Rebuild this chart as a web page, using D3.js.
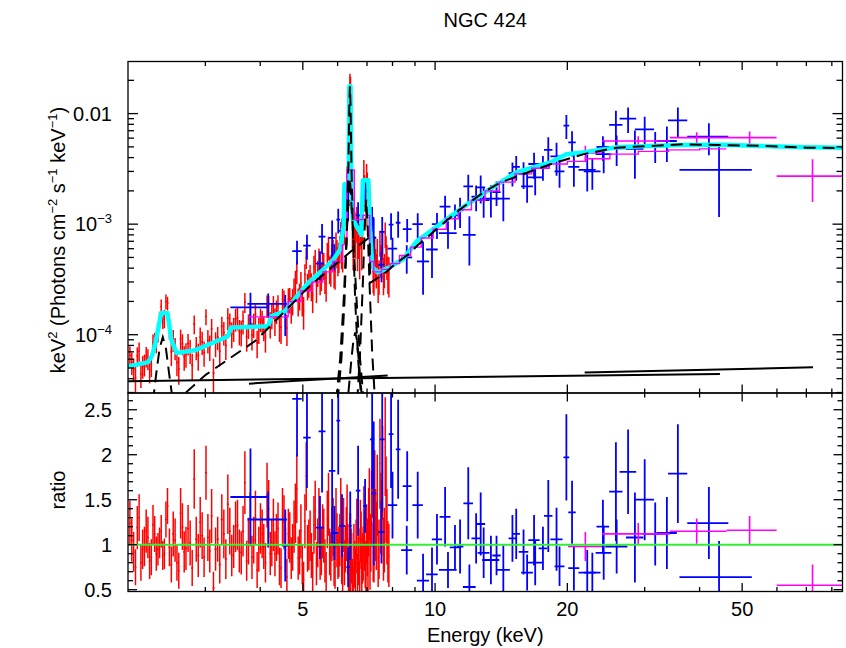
<!DOCTYPE html>
<html><head><meta charset="utf-8">
<script src="https://cdn.jsdelivr.net/npm/d3@7"></script>
<style>body{margin:0;background:#fff}svg{display:block}text{font-family:"Liberation Sans",Arial,Helvetica,sans-serif;fill:#000}</style>
</head><body><svg id="c" width="846" height="648"></svg>
<script>
// ---------------- DATA ----------------
const title = "NGC 424";
const xMajorTicks = [5, 10, 20, 50];
const xMinorTicks = [3, 4, 6, 7, 8, 9, 30, 40, 60, 70, 80];
const yTopMajor = [1e-4, 1e-3, 1e-2];
const yTopLabels = [["10","\u22124"],["10","\u22123"],["0.01",""]];
const yTopMinorMant = [2,3,4,5,6,7,8,9];
const yRatMajor = [0.5, 1, 1.5, 2, 2.5];

// red data set (2-8 keV), part 1
const redE = [2.02,2.06,2.10,2.14,2.18,2.22,2.26,2.30,2.34,2.38,
2.42,2.46,2.51,2.56,2.61,2.66,2.71,2.77,2.83,2.89,
2.95,3.01,3.07,3.13,3.20,3.27,3.34,3.41,3.48,3.55,
3.62,3.69,3.76,3.83,3.90,3.97,4.04,4.11,4.18,4.25,
4.32,4.39,4.46,4.53,4.60,4.67,4.74,4.81,4.88,4.95,
5.02,5.09,5.16,5.23,5.30,5.37,5.44,5.51,5.58,5.65,
5.72,5.79,5.86,5.92,5.98,6.04,6.10,6.16,6.22,6.28,
6.33,6.38,6.42,6.46,6.51,6.56,6.61,6.66,6.71,6.76,
6.81,6.86,6.91,6.96,7.01,7.06,7.11,7.17,7.23,7.29,
7.35,7.42,7.49,7.56,7.63,7.70,7.77,7.85];
const redFlux = [6.5e-5,4.9e-5,6.4e-5,4.4e-5,5.4e-5,6.1e-5,5.4e-5,8.8e-5,1.05e-4,1.8e-4,
1.41e-4,1.93e-4,7.0e-5,7.6e-5,4.9e-5,8.3e-5,6.7e-5,7.2e-5,1.25e-4,6.5e-5,
8.6e-5,1.46e-4,7.8e-5,4.5e-5,9.5e-5,1.19e-4,8.0e-5,1.27e-4,1.14e-4,1.42e-4,
1.06e-4,1.98e-4,1.22e-4,1.0e-4,1.53e-4,1.12e-4,1.32e-4,9.5e-5,1.82e-4,1.5e-4,
1.35e-4,1.83e-4,1.17e-4,2.03e-4,1.15e-4,2.1e-4,2.04e-4,3.04e-4,2.04e-4,2.93e-4,
1.65e-4,5.0e-4,3.0e-4,2.8e-4,4.1e-4,2.77e-4,4.8e-4,3.5e-4,4.3e-4,2.9e-4,
6.2e-4,3.9e-4,5.7e-4,3.75e-4,5.6e-4,5.2e-4,8.3e-4,5.4e-4,9.6e-4,1.8e-3,
2.2e-3,8.6e-3,1.36e-2,1.7e-3,6.0e-4,8.2e-4,9.8e-4,5.9e-4,7.5e-4,9.4e-4,
5.9e-4,1.35e-3,2.1e-3,1.55e-3,2.2e-3,2.0e-3,7.2e-4,7.7e-4,3.7e-4,6.1e-4,
4.0e-4,3.1e-4,6.9e-4,4.7e-4,3.6e-4,8.2e-4,4.8e-4,3.6e-4];
const redRatio = [1.24,0.92,1.19,0.80,0.98,1.08,0.86,1.12,0.95,1.15,
0.90,1.43,0.78,1.05,0.71,1.20,0.96,1.02,1.73,0.88,
1.10,1.80,0.93,0.52,1.06,1.28,0.84,1.15,0.98,1.22,
0.91,1.69,1.04,0.86,1.30,0.95,1.12,0.80,1.40,1.02,
0.90,1.18,0.74,1.25,0.64,1.08,0.97,1.35,0.85,1.15,
0.61,1.76,1.00,0.88,1.22,0.79,1.30,0.93,1.10,0.70,
1.45,0.86,1.20,0.75,1.05,0.92,1.38,0.68,0.80,1.12,
0.95,0.72,0.85,0.85,0.55,0.78,0.98,0.66,0.88,1.15,
0.74,0.90,1.05,0.62,0.97,1.25,0.80,1.40,0.92,1.60,
1.10,0.85,1.90,1.30,0.95,2.09,1.20,0.88];
const redRatioErr = [0.25,0.22,0.24,0.20,0.22,0.23,0.20,0.20,0.18,0.18,
0.17,0.20,0.20,0.24,0.20,0.26,0.24,0.25,0.33,0.24,
0.26,0.30,0.24,0.18,0.25,0.28,0.22,0.26,0.24,0.28,
0.24,0.35,0.26,0.24,0.30,0.25,0.27,0.22,0.32,0.26,
0.25,0.29,0.22,0.30,0.20,0.28,0.26,0.33,0.24,0.30,
0.20,0.38,0.28,0.25,0.32,0.24,0.33,0.27,0.30,0.22,
0.35,0.26,0.32,0.24,0.30,0.28,0.36,0.22,0.25,0.30,
0.28,0.35,0.50,0.28,0.20,0.26,0.30,0.24,0.30,0.35,
0.26,0.30,0.34,0.24,0.32,0.38,0.30,0.42,0.33,0.45,
0.38,0.32,0.50,0.42,0.35,0.55,0.42,0.35];

// red data set, part 2 (bins lying between those of part 1)
const redE2 = [2.04,2.08,2.12,2.16,2.20,2.24,2.28,2.32,2.36,2.40,
2.44,2.485,2.535,2.585,2.635,2.685,2.74,2.80,2.86,2.92,
2.98,3.04,3.10,3.165,3.235,3.305,3.375,3.445,3.515,3.585,
3.655,3.725,3.795,3.865,3.935,4.005,4.075,4.145,4.215,4.285,
4.355,4.425,4.495,4.565,4.635,4.705,4.775,4.845,4.915,4.985,
5.055,5.125,5.195,5.265,5.335,5.405,5.475,5.545,5.615,5.685,
5.755,5.825,5.89,5.95,6.01,6.07,6.13,6.19,6.25,6.305,
6.355,6.40,6.44,6.485,6.535,6.585,6.635,6.685,6.735,6.785,
6.835,6.885,6.935,6.985,7.035,7.085,7.14,7.20,7.26,7.32,
7.385,7.455,7.525,7.595,7.665,7.735,7.81];
const redFlux2 = [5.6e-5,4.05e-5,7.1e-5,5.2e-5,6.4e-5,4.8e-5,8.5e-5,8.6e-5,1.38e-4,1.38e-4,
2.0e-4,1.16e-4,9.0e-5,5.6e-5,9.2e-5,6.3e-5,8.3e-5,5.3e-5,7.7e-5,9.5e-5,
6.9e-5,8.9e-5,1.13e-4,8.4e-5,7.1e-5,1.05e-4,1.41e-4,1.02e-4,1.39e-4,1.08e-4,
1.33e-4,9.6e-5,1.5e-4,1.24e-4,8.5e-5,1.39e-4,1.17e-4,1.84e-4,1.26e-4,1.81e-4,
1.64e-4,1.19e-4,2.11e-4,1.6e-4,2.1e-4,1.72e-4,2.6e-4,3.76e-4,2.27e-4,2.04e-4,
3.5e-4,2.8e-4,3.4e-4,2.29e-4,4.7e-4,3.67e-4,3.2e-4,4.4e-4,3.3e-4,5.4e-4,
4.0e-4,5.2e-4,3.8e-4,6.7e-4,4.8e-4,6.1e-4,5.6e-4,1.1e-3,1.33e-3,2.7e-3,
3.5e-3,1.87e-2,7.0e-3,9.3e-4,1.03e-3,7.3e-4,1.12e-3,7.2e-4,5.0e-4,8.5e-4,
1.02e-3,3.0e-3,1.95e-3,2.7e-3,1.36e-3,1.89e-3,7.1e-4,7.9e-4,3.5e-4,4.5e-4,
5.7e-4,3.5e-4,4.9e-4,6.7e-4,4.0e-4,5.9e-4,3.7e-4];
const redRatio2 = [1.05,0.75,1.30,0.95,1.15,0.82,1.22,0.90,1.02,0.88,
1.28,0.97,1.12,0.80,1.35,0.92,1.18,0.74,1.06,1.25,
0.86,1.08,1.32,0.95,0.78,1.12,1.45,0.88,1.20,0.93,
1.15,0.82,1.28,1.05,0.72,1.18,0.98,1.55,0.90,1.22,
1.08,0.76,1.32,0.94,1.12,0.85,1.20,1.62,0.92,0.78,
1.26,0.96,1.10,0.70,1.38,1.02,0.86,1.15,0.82,1.28,
0.92,1.12,0.78,1.30,0.88,1.05,0.80,1.22,0.95,1.35,
0.70,1.10,0.88,0.62,0.95,0.72,1.18,0.82,0.60,1.05,
0.85,1.30,0.78,1.12,0.68,1.45,1.02,1.75,0.90,1.22,
1.55,0.95,1.35,1.80,1.05,1.50,0.92];
const redRatioErr2 = [0.24,0.20,0.26,0.22,0.24,0.20,0.22,0.19,0.17,0.16,
0.20,0.21,0.25,0.20,0.28,0.23,0.26,0.20,0.25,0.28,
0.22,0.26,0.30,0.24,0.21,0.27,0.33,0.23,0.28,0.24,
0.28,0.22,0.30,0.26,0.20,0.28,0.25,0.36,0.24,0.29,
0.26,0.21,0.31,0.25,0.28,0.23,0.29,0.38,0.25,0.22,
0.30,0.26,0.28,0.22,0.33,0.27,0.25,0.30,0.24,0.32,
0.26,0.30,0.24,0.33,0.26,0.29,0.24,0.30,0.26,0.32,
0.25,0.25,0.30,0.22,0.28,0.24,0.33,0.27,0.22,0.32,
0.28,0.35,0.26,0.33,0.25,0.40,0.32,0.45,0.32,0.40,
0.45,0.33,0.45,0.52,0.36,0.48,0.34];

// blue data set (3.5-50 keV)
const blueE = [3.80,4.17,4.56,4.85,5.11,5.47,5.53,5.83,5.90,6.02,6.14,6.34,6.41,6.68,6.93,7.19,7.25,7.55,7.58,7.94,
8.00,8.24,8.62,8.64,9.13,9.39,9.84,10.1,10.54,10.7,11.1,11.4,11.9,11.97,12.4,12.7,12.9,13.4,13.8,14.3,
15.0,15.3,15.9,16.2,16.8,16.9,17.6,18.1,18.9,19.2,19.9,20.5,20.7,22.2,22.8,24.1,24.2,25.8,25.9,27.5,
28.5,30.0,31.7,33.7,35.7,42.0,44.3];
const blueHalfW = [0.38,0.43,0.08,0.12,0.10,0.12,0.10,0.10,0.12,0.06,0.10,0.06,0.05,0.08,0.07,0.08,0.10,0.13,0.10,0.10,
0.20,0.10,0.25,0.20,0.25,0.30,0.30,0.27,0.30,0.50,0.30,0.20,0.30,0.40,0.30,0.30,0.40,0.60,0.30,0.50,
0.30,0.30,0.40,0.50,0.50,0.70,0.40,0.40,0.60,0.50,0.30,0.40,0.60,1.00,1.00,0.80,1.00,0.90,1.50,1.20,
1.30,1.50,2.00,1.80,1.80,4.50,8.30];
const blueFlux = [1.77e-4,1.90e-4,1.63e-4,5.7e-4,6.4e-4,4.4e-4,7.7e-4,7.5e-4,5.2e-4,1.10e-3,8.7e-4,1.5e-3,4.7e-3,1.2e-3,2.0e-3,1.14e-3,7.5e-4,4.3e-4,8.5e-4,9.9e-4,
6.0e-4,1.03e-3,5.0e-4,9.0e-4,1.0e-3,4.6e-4,5.9e-4,1.0e-3,1.44e-3,8.3e-4,1.2e-3,1.33e-3,2.2e-3,8.0e-4,1.77e-3,2.15e-3,1.65e-3,1.7e-3,1.95e-3,1.7e-3,
2.9e-3,3.3e-3,2.85e-3,2.2e-3,3.5e-3,2.65e-3,3.3e-3,4.7e-3,4.1e-3,3.0e-3,7.8e-3,5.5e-3,3.3e-3,3.1e-3,3.0e-3,5.0e-3,4.3e-3,7.9e-3,4.85e-3,9.0e-3,
4.8e-3,7.2e-3,5.2e-3,5.65e-3,8.7e-3,6.2e-3,3.1e-3];
const blueRatio = [1.53,1.28,0.99,2.62,2.19,1.19,2.26,1.82,1.13,2.38,1.21,0.75,1.21,1.60,1.43,2.17,1.57,1.14,2.17,2.23,
1.44,2.06,0.94,1.65,1.44,0.60,0.67,1.06,1.31,0.72,0.97,0.98,1.46,0.53,1.07,1.23,0.91,0.83,0.88,0.72,
1.07,1.12,0.92,0.69,1.05,0.80,0.96,1.32,1.06,0.76,1.97,1.36,0.74,0.69,0.69,1.20,0.91,1.59,0.98,1.81,
1.08,1.50,1.12,1.13,1.79,1.24,0.64];
const blueRatioErr = [0.54,0.31,0.40,0.64,0.56,0.35,0.68,0.80,0.30,0.60,0.35,0.22,0.38,0.50,0.30,0.55,0.80,0.35,0.80,0.60,
0.37,0.55,0.27,0.39,0.37,0.30,0.30,0.28,0.33,0.20,0.25,0.30,0.40,0.25,0.28,0.35,0.28,0.27,0.22,0.27,
0.26,0.28,0.25,0.20,0.28,0.25,0.24,0.40,0.35,0.22,0.48,0.35,0.25,0.25,0.22,0.30,0.30,0.55,0.30,0.47,
0.50,0.45,0.35,0.40,0.55,0.40,0.40];

// magenta data set (20-85 keV)
const batE = [21.98, 29.0, 39.4, 52.0, 72.3];
const batLo = [20.07, 24.0, 34.2, 46.1, 59.9];
const batHi = [23.99, 34.2, 46.1, 59.9, 85.0];
const batFlux = [4.4e-3, 5.65e-3, 6.06e-3, 6.06e-3, 2.72e-3];
const batRatio = [0.98, 1.12, 1.15, 1.16, 0.55];
const batRatioErr = [0.16, 0.12, 0.14, 0.16, 0.23];

// total model (cyan)
const cyanE = [2.00,2.22,2.27,2.30,2.34,2.38,2.46,2.51,2.58,2.84,3.38,3.43,4.17,4.24,4.55,5.14,5.57,5.87,6.08,6.19,
6.22,6.36,6.38,6.42,6.45,6.50,6.80,6.85,7.05,7.10,7.20,7.40,7.90,8.20,8.45,9.08,9.90,11.4,13.3,15.3,
18.3,19.9,21.7,25.9,30.8,36.6,45.0,55.0,70.0,85.0];
const cyanV = [5.18e-5,5.62e-5,6.5e-5,7.85e-5,1.1e-4,1.57e-4,1.57e-4,9.04e-5,6.84e-5,7.22e-5,9.68e-5,1.16e-4,1.19e-4,1.47e-4,1.63e-4,2.94e-4,3.89e-4,4.79e-4,5.9e-4,9.6e-4,
2.3e-3,2.3e-3,1.77e-2,1.77e-2,2.0e-3,1.1e-3,8.0e-4,2.5e-3,2.5e-3,1.0e-3,4.1e-4,3.65e-4,4.1e-4,4.5e-4,4.79e-4,7.0e-4,8.96e-4,1.36e-3,2.06e-3,2.94e-3,
3.62e-3,4.28e-3,4.46e-3,4.95e-3,5.09e-3,5.2e-3,5.22e-3,5.1e-3,4.95e-3,4.9e-3];

// binned model of the second data set (magenta steps): bin edges and levels
const magEdges = [3.76,4.63,4.95,5.25,5.55,5.85,6.15,6.30,6.55,6.85,7.10,7.25,7.55,7.90,8.3,8.8,9.3,9.9,10.6,11.3,12.1,13.0,14.0,15.2,16.6,18.2,20.0,22.0,25.0,29.0,34.0,40.0,46.0];
const magLevels = [1.45e-4,2.0e-4,2.5e-4,3.0e-4,3.7e-4,4.6e-4,6.5e-4,3.1e-3,1.1e-3,1.2e-3,4.6e-4,3.7e-4,3.9e-4,4.4e-4,5.2e-4,6.2e-4,7.5e-4,9.0e-4,1.12e-3,1.35e-3,1.65e-3,2.0e-3,2.4e-3,2.85e-3,3.2e-3,3.5e-3,3.7e-3,3.9e-3,4.3e-3,4.55e-3,4.7e-3,4.8e-3];

// dashed components
const contE = [2.55,2.70,3.01,3.93,5.14,6.51,7.10,7.12,7.62,8.18,8.68,9.15,9.74,10.26,11.4,12.86,14.06,16.17,18.26,21.71,25.9,36.66,43.7,56.8,70.1,85.0];
const contV = [2.2e-5,2.97e-5,4.36e-5,9.0e-5,2.67e-4,5.9e-4,7.6e-4,2.95e-4,3.5e-4,4.47e-4,5.3e-4,6.5e-4,8.0e-4,9.6e-4,1.36e-3,1.93e-3,2.37e-3,2.92e-3,3.47e-3,4.28e-3,4.92e-3,5.27e-3,5.2e-3,5.09e-3,4.92e-3,4.88e-3];
const feKaNarrowE = [6.00,6.12,6.22,6.30,6.35,6.38,6.40,6.42,6.45,6.50,6.58,6.68,6.80];
const feKaNarrowV = [2.5e-5,6e-5,2.0e-4,9e-4,3.5e-3,1.2e-2,1.77e-2,1.2e-2,3.5e-3,9e-4,2.0e-4,6e-5,2.5e-5];
const feKaBinnedE = [5.95,6.08,6.20,6.30,6.40,6.50,6.62,6.75,6.88];
const feKaBinnedV = [2.5e-5,6e-5,2.2e-4,9e-4,2.6e-3,9e-4,2.2e-4,6e-5,2.5e-5];
const feHighE = [6.65,6.75,6.85,6.92,6.97,7.02,7.09,7.19,7.30];
const feHighV = [2.5e-5,7e-5,3.0e-4,1.0e-3,1.67e-3,1.0e-3,3.0e-4,7e-5,2.5e-5];
const broadE = [6.35,6.45,6.52,6.58,6.64,6.70,6.80];
const broadV = [3e-5,6e-5,9e-5,1.05e-4,9e-5,6e-5,3e-5];
const lowLineE = [2.28,2.32,2.36,2.40,2.44,2.48,2.53];
const lowLineV = [2.5e-5,4.5e-5,7.5e-5,9.5e-5,7.5e-5,4.5e-5,2.5e-5];

// solid scattered power-law components [E1,E2],[V1,V2]
const plA = {E:[2.0,44.5], V:[3.80e-5,4.42e-5]};
const plB = {E:[3.77,7.8], V:[3.61e-5,4.27e-5]};
const plC = {E:[21.9,72.5], V:[4.56e-5,5.07e-5]};

// ---------------- LAYOUT ----------------
const L = 128, R = 842.5, T = 61.5, M = 393, B = 591.5;
const svg = d3.select("#c");
const x = d3.scaleLog().domain([2, 84.6]).range([L, R]);
const yT = d3.scaleLog().domain([2.97e-5, 0.0296]).range([M, T]);
const yR = d3.scaleLinear().domain([0.48, 2.686]).range([B, M]);

const defs = svg.append("defs");
defs.append("clipPath").attr("id","clipT").append("rect").attr("x",L).attr("y",T).attr("width",R-L).attr("height",M-T);
defs.append("clipPath").attr("id","clipR").append("rect").attr("x",L).attr("y",M).attr("width",R-L).attr("height",B-M);

const gT = svg.append("g").attr("clip-path","url(#clipT)");
const gR = svg.append("g").attr("clip-path","url(#clipR)");

// merge the two red parts into one energy-sorted set
const red = redE.map((e,i)=>({e, f:redFlux[i], r:redRatio[i], er:redRatioErr[i]}))
  .concat(redE2.map((e,i)=>({e, f:redFlux2[i], r:redRatio2[i], er:redRatioErr2[i]})))
  .sort((a,b)=>a.e-b.e);
const rE = red.map(d=>d.e), rF = red.map(d=>d.f), rR = red.map(d=>d.r), rEr = red.map(d=>d.er);

function binEdges(E){
  return E.map((e,i)=>{
    const a = i>0 ? E[i-1] : e - (E[1]-E[0]);
    const b = i<E.length-1 ? E[i+1] : e + (e-E[i-1]);
    return [ (e+a)/2, (e+b)/2 ];
  });
}
const redBins = binEdges(rE);

function buildTop(E, lohi, flux, ratio, err){
  return E.map((e,i)=>{
    const rel = err[i]/ratio[i];
    const lo = Math.max(flux[i]*(1-rel), 1e-7);
    return {e, lo:lohi[i][0], hi:lohi[i][1], y:yT(flux[i]), y1:yT(flux[i]*(1+rel)), y2:yT(lo)};
  });
}
function buildRat(E, lohi, ratio, err){
  return E.map((e,i)=>({e, lo:lohi[i][0], hi:lohi[i][1], y:yR(ratio[i]), y1:yR(ratio[i]+err[i]), y2:yR(ratio[i]-err[i])}));
}
function crosses(g, pts, color, sw){
  const gg = g.append("g").attr("stroke",color).attr("stroke-width",sw).attr("fill","none");
  gg.selectAll("line.h").data(pts).join("line").attr("class","h")
    .attr("x1",d=>x(d.lo)).attr("x2",d=>x(d.hi)).attr("y1",d=>d.y).attr("y2",d=>d.y);
  gg.selectAll("line.v").data(pts).join("line").attr("class","v")
    .attr("x1",d=>x(d.e)).attr("x2",d=>x(d.e)).attr("y1",d=>d.y1).attr("y2",d=>d.y2);
}
const blueBins = blueE.map((e,i)=>[e-blueHalfW[i], e+blueHalfW[i]]);
const batBins = batE.map((e,i)=>[batLo[i], batHi[i]]);

// top panel data
crosses(gT, buildTop(rE, redBins, rF, rR, rEr), "#ff0000", 1.5);
crosses(gT, buildTop(blueE, blueBins, blueFlux, blueRatio, blueRatioErr), "#0000ff", 1.8);
crosses(gT, buildTop(batE, batBins, batFlux, batRatio, batRatioErr), "#ff00ff", 1.6);

const lineT = d3.line().x(d=>x(d[0])).y(d=>yT(d[1]));
const zip = (a,b)=>a.map((v,i)=>[v,b[i]]);
// cyan model
gT.append("path").attr("d", lineT(zip(cyanE,cyanV))).attr("fill","none").attr("stroke","#00ffff").attr("stroke-width",4.5).attr("stroke-linejoin","round");
// magenta step model
const magPts = magLevels.map((v,i)=>[magEdges[i],v]); magPts.push([magEdges[magEdges.length-1], magLevels[magLevels.length-1]]);
gT.append("path").attr("d", d3.line().curve(d3.curveStepAfter).x(d=>x(d[0])).y(d=>yT(d[1]))(magPts))
  .attr("fill","none").attr("stroke","#ff00ff").attr("stroke-width",1.4);
// dashed components
[[contE,contV],[feKaNarrowE,feKaNarrowV],[feKaBinnedE,feKaBinnedV],[feHighE,feHighV],[broadE,broadV],[lowLineE,lowLineV]].forEach(([E,V])=>{
  gT.append("path").attr("d", lineT(zip(E,V))).attr("fill","none").attr("stroke","#000").attr("stroke-width",2).attr("stroke-dasharray","12,7");
});
[plA,plB,plC].forEach(p=>{
  gT.append("path").attr("d", lineT(zip(p.E,p.V))).attr("fill","none").attr("stroke","#000").attr("stroke-width",2);
});

// ratio panel
crosses(gR, buildRat(rE, redBins, rR, rEr), "#ff0000", 1.5);
crosses(gR, buildRat(blueE, blueBins, blueRatio, blueRatioErr), "#0000ff", 1.8);
crosses(gR, buildRat(batE, batBins, batRatio, batRatioErr), "#ff00ff", 1.6);
gR.append("line").attr("x1",L).attr("x2",R).attr("y1",yR(1)).attr("y2",yR(1)).attr("stroke","#33ee33").attr("stroke-width",2);

// ---------------- AXES ----------------
const ax = svg.append("g").attr("stroke","#000").attr("stroke-width",1.3).attr("fill","none");
ax.append("rect").attr("x",L).attr("y",T).attr("width",R-L).attr("height",M-T);
ax.append("rect").attr("x",L).attr("y",M).attr("width",R-L).attr("height",B-M);
function xTicks(yEdge, dir){
  xMajorTicks.forEach(t=>ax.append("line").attr("x1",x(t)).attr("x2",x(t)).attr("y1",yEdge).attr("y2",yEdge+dir*8.5));
  xMinorTicks.forEach(t=>ax.append("line").attr("x1",x(t)).attr("x2",x(t)).attr("y1",yEdge).attr("y2",yEdge+dir*4.5));
}
xTicks(T,1); xTicks(M,-1); xTicks(M,1); xTicks(B,-1);
function yTick(y, len){
  ax.append("line").attr("x1",L).attr("x2",L+len).attr("y1",y).attr("y2",y);
  ax.append("line").attr("x1",R).attr("x2",R-len).attr("y1",y).attr("y2",y);
}
yTopMajor.forEach(v=>yTick(yT(v),10));
[1e-5,1e-4,1e-3,1e-2].forEach(dec=>yTopMinorMant.forEach(m=>{const v=dec*m; if(v>2.97e-5 && v<0.0296) yTick(yT(v),6);}));
yRatMajor.forEach(v=>yTick(yR(v),9));
d3.range(6,27).map(k=>k/10).filter(v=>Math.abs(v*2-Math.round(v*2))>1e-6).forEach(v=>yTick(yR(v),5));

// labels
const fs = 20, fsup = 13;
yTopMajor.forEach((v,i)=>{
  const t = svg.append("text").attr("x",112).attr("y",yT(v)+7).attr("text-anchor","end").attr("font-size",fs);
  t.append("tspan").text(yTopLabels[i][0]);
  if (yTopLabels[i][1]) t.append("tspan").attr("dy",-8).attr("font-size",fsup).text(yTopLabels[i][1]);
});
yRatMajor.forEach(v=>{
  svg.append("text").attr("x",112).attr("y",yR(v)+7).attr("text-anchor","end").attr("font-size",fs).text(String(v));
});
xMajorTicks.forEach(t=>{
  svg.append("text").attr("x",x(t)).attr("y",616).attr("text-anchor","middle").attr("font-size",fs).text(String(t));
});
svg.append("text").attr("x",(L+R)/2).attr("y",642).attr("text-anchor","middle").attr("font-size",fs).text("Energy (keV)");
svg.append("text").attr("x",(L+R)/2).attr("y",27).attr("text-anchor","middle").attr("font-size",fs).text(title);
svg.append("text").attr("transform","translate(65,490) rotate(-90)").attr("text-anchor","middle").attr("font-size",fs).text("ratio");
const yl = svg.append("text").attr("transform","translate(65,240) rotate(-90)").attr("text-anchor","middle").attr("font-size",fs);
yl.append("tspan").text("keV");
yl.append("tspan").attr("dy",-8).attr("font-size",fsup).text("2");
yl.append("tspan").attr("dy",8).text(" (Photons cm");
yl.append("tspan").attr("dy",-8).attr("font-size",fsup).text("\u22122");
yl.append("tspan").attr("dy",8).text(" s");
yl.append("tspan").attr("dy",-8).attr("font-size",fsup).text("\u22121");
yl.append("tspan").attr("dy",8).text(" keV");
yl.append("tspan").attr("dy",-8).attr("font-size",fsup).text("\u22121");
yl.append("tspan").attr("dy",8).text(")");
</script></body></html>
